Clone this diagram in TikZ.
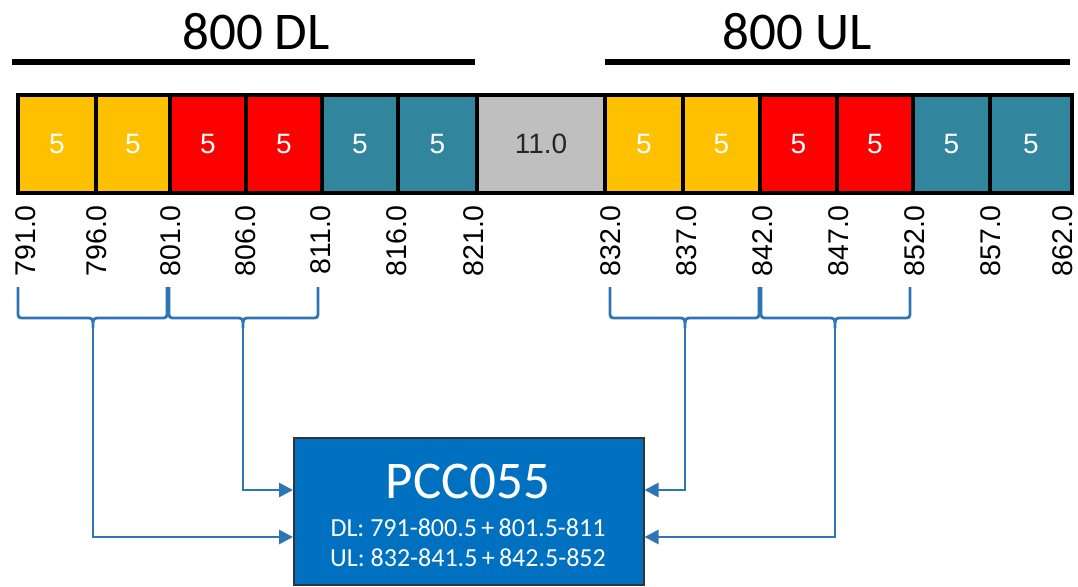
\documentclass[tikz,border=0pt]{standalone}
\usepackage{fontspec}
\setmainfont{Liberation Sans}
\newfontfamily\calib{Carlito}
\usetikzlibrary{arrows.meta}
\definecolor{cyel}{HTML}{FFC000}
\definecolor{cred}{HTML}{FF0000}
\definecolor{cteal}{HTML}{31859C}
\definecolor{cgray}{HTML}{BFBFBF}
\definecolor{cblue}{HTML}{2E75B6}
\definecolor{boxblue}{HTML}{0070C0}
\tikzset{
  x=1pt,y=-1pt,
  cell/.style={draw=black,line width=4.5pt,minimum height=98pt,inner sep=0pt,font=\fontsize{28}{32}\selectfont},
  tick/.style={rotate=90,anchor=east,inner sep=0pt,font=\fontsize{28.5}{32}\selectfont},
  brace/.style={draw=cblue,line width=2.8pt,line join=round},
  feed/.style={draw=cblue,line width=2.8pt,-{Triangle[length=14pt,width=14pt]}},
  title/.style={font=\calib\fontsize{53}{58}\selectfont,inner sep=0pt},
}
\begin{document}
\begin{tikzpicture}
\useasboundingbox (0,0) rectangle (1078,586);
% titles
\node[title] (tdl) at (256,32) {800 DL};
\node[title] (tul) at (797,32) {800 UL};
\draw[line width=6pt] (12,62) -- (475,62);
\draw[line width=6pt] (605,62) -- (1070,62);
% cells
\def\cy{144}
\node[cell,fill=cyel,text=white,minimum width=78pt] (c1) at (57,\cy) {5};
\node[cell,fill=cyel,text=white,minimum width=74pt] (c2) at (133,\cy) {5};
\node[cell,fill=cred,text=white,minimum width=76pt] (c3) at (208,\cy) {5};
\node[cell,fill=cred,text=white,minimum width=76pt] (c4) at (284,\cy) {5};
\node[cell,fill=cteal,text=white,minimum width=76pt] (c5) at (360,\cy) {5};
\node[cell,fill=cteal,text=white,minimum width=79pt] (c6) at (437.5,\cy) {5};
\node[cell,fill=cgray,text=black!85,minimum width=128pt] (c7) at (541,\cy) {11.0};
\node[cell,fill=cyel,text=white,minimum width=78pt] (c8) at (644,\cy) {5};
\node[cell,fill=cyel,text=white,minimum width=77pt] (c9) at (721.5,\cy) {5};
\node[cell,fill=cred,text=white,minimum width=77pt] (c10) at (798.5,\cy) {5};
\node[cell,fill=cred,text=white,minimum width=76pt] (c11) at (875,\cy) {5};
\node[cell,fill=cteal,text=white,minimum width=77pt] (c12) at (951.5,\cy) {5};
\node[cell,fill=cteal,text=white,minimum width=82pt] (c13) at (1031,\cy) {5};
% tick labels
\node[tick] (t791) at (26,205) {791.0};
\node[tick] (t796) at (97,205) {796.0};
\node[tick] (t801) at (171,205) {801.0};
\node[tick] (t806) at (246,205) {806.0};
\node[tick] (t811) at (321,205) {811.0};
\node[tick] (t816) at (397,205) {816.0};
\node[tick] (t821) at (474,205) {821.0};
\node[tick] (t832) at (611,205) {832.0};
\node[tick] (t837) at (687,205) {837.0};
\node[tick] (t842) at (763,205) {842.0};
\node[tick] (t847) at (839,205) {847.0};
\node[tick] (t852) at (915,205) {852.0};
\node[tick] (t857) at (991,205) {857.0};
\node[tick] (t862) at (1063,205) {862.0};
% braces
\newcommand{\bracepath}[3]{% x1, mid, x2
  \draw[brace] (#1,287) -- (#1,311) .. controls (#1,318) .. (#1+7,318)
    -- (#2-7,318) .. controls (#2,318) .. (#2,328)
    .. controls (#2,318) .. (#2+7,318) -- (#3-7,318)
    .. controls (#3,318) .. (#3,311) -- (#3,287);}
\bracepath{18}{93}{167}
\bracepath{169}{243}{318}
\bracepath{610}{685}{759}
\bracepath{761}{835}{910}
\coordinate (b1) at (93,328);
\coordinate (b2) at (243,328);
\coordinate (b3) at (685,328);
\coordinate (b4) at (835,328);
% box
\node[draw=black!80,line width=1.5pt,fill=boxblue,minimum width=350pt,minimum height=147pt,inner sep=0pt,anchor=north west] (box) at (293,437) {};
\node[text=white,font=\calib\fontsize{53}{58}\selectfont,inner sep=0pt] (pcc) at (468,481) {PCC055};
\node[text=white,font=\calib\fontsize{26}{30}\selectfont,inner sep=0pt] (dl) at (468,528) {DL: 791-800.5\,+\,801.5-811};
\node[text=white,font=\calib\fontsize{26}{30}\selectfont,inner sep=0pt] (ul) at (468,558) {UL: 832-841.5\,+\,842.5-852};
% feeds
\draw[feed] (b1) |- (box.west |- 0,537);
\draw[feed] (b2) |- (box.west |- 0,490);
\draw[feed] (b3) |- (box.east |- 0,490);
\draw[feed] (b4) |- (box.east |- 0,537);
\end{tikzpicture}
\end{document}
